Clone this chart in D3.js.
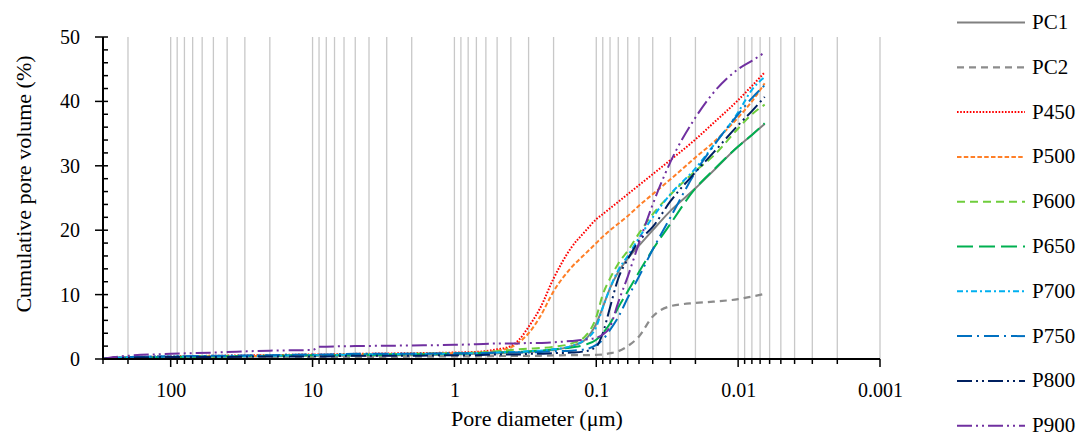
<!DOCTYPE html>
<html><head><meta charset="utf-8">
<script src="https://cdn.jsdelivr.net/npm/d3@7"></script>
<style>
body{margin:0;background:#fff;}
svg text{font-family:"Liberation Serif","Times New Roman",serif;fill:#000;}
</style>
</head><body>
<svg id="c" width="1080" height="439"></svg>
<script>
// ---- data (pore diameter in µm, cumulative pore volume in %) ----
const diameters = [300, 250, 200, 100, 50, 20, 10, 9, 5, 2, 1, 0.7, 0.5, 0.4, 0.35, 0.3, 0.25, 0.2, 0.15, 0.12, 0.1, 0.09, 0.08, 0.07, 0.06, 0.05, 0.04, 0.03, 0.02, 0.015, 0.01, 0.008, 0.0065];
const pc1  = [0, 0.15, 0.2, 0.3, 0.4, 0.4, 0.5, 0.5, 0.5, 0.6, 0.7, 0.8, 0.9, 1.0, 1.0, 1.1, 1.2, 1.4, 2.0, 3.0, 5.5, 8.0, 11.0, 13.5, 15.6, 17.6, 20.0, 23.0, 26.5, 29.2, 33.0, 34.8, 36.5];
const pc2  = [0, 0.1, 0.1, 0.15, 0.2, 0.25, 0.3, 0.3, 0.3, 0.35, 0.4, 0.4, 0.45, 0.5, 0.5, 0.5, 0.5, 0.55, 0.6, 0.6, 0.65, 0.7, 0.9, 1.2, 2.0, 3.5, 6.6, 8.2, 8.7, 8.9, 9.3, 9.7, 10.1];
const p450 = [0, 0.2, 0.3, 0.4, 0.5, 0.6, 0.7, 0.7, 0.8, 0.9, 1.0, 1.1, 1.5, 2.0, 3.0, 5.0, 7.8, 12.5, 17.3, 19.8, 21.7, 22.5, 23.4, 24.4, 25.6, 27.0, 28.7, 30.9, 34.1, 36.6, 40.2, 42.4, 44.5];
const p500 = [0, 0.15, 0.2, 0.3, 0.4, 0.5, 0.6, 0.6, 0.7, 0.8, 0.9, 1.0, 1.3, 1.8, 2.6, 4.0, 6.5, 10.5, 14.2, 16.3, 18.0, 19.0, 20.0, 21.0, 22.2, 23.8, 25.6, 27.9, 31.3, 33.6, 37.5, 40.0, 42.8];
const p600 = [0, 0.15, 0.2, 0.3, 0.4, 0.5, 0.6, 0.6, 0.7, 0.8, 0.9, 1.0, 1.2, 1.4, 1.5, 1.6, 1.7, 1.9, 2.4, 3.5, 6.5, 10.0, 12.5, 14.8, 16.8, 19.5, 22.5, 25.5, 29.2, 31.5, 35.8, 38.0, 39.5];
const p650 = [0, 0.15, 0.2, 0.3, 0.4, 0.5, 0.6, 0.6, 0.6, 0.7, 0.8, 0.9, 1.0, 1.1, 1.1, 1.2, 1.3, 1.5, 1.8, 2.2, 3.0, 4.0, 5.5, 8.0, 10.5, 13.5, 17.0, 21.0, 26.5, 29.3, 33.0, 34.8, 36.6];
const p700 = [0, 0.2, 0.3, 0.4, 0.4, 0.5, 0.6, 0.6, 0.7, 0.8, 0.8, 0.9, 1.0, 1.1, 1.1, 1.2, 1.3, 1.5, 2.0, 3.0, 5.0, 8.0, 11.0, 13.8, 16.0, 18.8, 22.0, 25.6, 29.6, 33.1, 38.3, 41.8, 43.8];
const p750 = [0, 0.2, 0.3, 0.4, 0.5, 0.6, 0.7, 0.7, 0.8, 0.8, 0.9, 0.9, 1.0, 1.0, 1.0, 1.0, 1.1, 1.2, 1.3, 1.5, 2.2, 3.0, 4.5, 6.5, 9.5, 12.8, 17.0, 22.0, 29.0, 33.0, 38.0, 40.5, 42.5];
const p800 = [0, 0.15, 0.2, 0.3, 0.3, 0.4, 0.4, 0.4, 0.5, 0.5, 0.6, 0.6, 0.7, 0.7, 0.7, 0.8, 0.8, 0.9, 1.0, 1.2, 1.9, 4.0, 8.0, 12.5, 15.5, 18.3, 20.5, 24.5, 29.0, 32.0, 36.3, 38.5, 40.7];
const p900 = [0, 0.3, 0.5, 0.8, 1.0, 1.3, 1.4, 1.9, 2.0, 2.1, 2.2, 2.3, 2.4, 2.4, 2.4, 2.5, 2.5, 2.6, 2.8, 3.0, 3.3, 3.8, 5.0, 8.8, 12.8, 18.0, 24.0, 30.6, 37.5, 41.3, 45.0, 46.3, 47.6];
const seriesNames = ["PC1", "PC2", "P450", "P500", "P600", "P650", "P700", "P750", "P800", "P900"];
const xTickValues = [100, 10, 1, 0.1, 0.01, 0.001];
const xTickLabels = ["100", "10", "1", "0.1", "0.01", "0.001"];
const yTickValues = [0, 10, 20, 30, 40, 50];
const yTickLabels = ["0", "10", "20", "30", "40", "50"];
const xTitle = "Pore diameter (μm)";
const yTitle = "Cumulative pore volume (%)";

// ---- styles ----
const seriesValues = [pc1, pc2, p450, p500, p600, p650, p700, p750, p800, p900];
const styles = [
  {color: "#808080", dash: null, w: 2},
  {color: "#8c8c8c", dash: "7,5", w: 2.2},
  {color: "#ff0000", dash: "1.6,1.6", w: 2},
  {color: "#ff7f27", dash: "4.5,2.3", w: 2},
  {color: "#6fcd3c", dash: "8,5", w: 2},
  {color: "#00b050", dash: "16,6", w: 2},
  {color: "#00b0f0", dash: "6,3,2,3", w: 2},
  {color: "#0070c0", dash: "15,5,2,5", w: 2},
  {color: "#002060", dash: "15,4,2,4,2,4", w: 2},
  {color: "#7030a0", dash: "15,4,2,4,2,4", w: 2}
];

const svg = d3.select("#c");
const mL = 103, mR = 880, mT = 37, mB = 359;
const x = d3.scaleLog().domain([300, 0.001]).range([mL, mR]);
const y = d3.scaleLinear().domain([0, 50]).range([mB, mT]);

// minor log positions
const minorVals = [];
for (let e = -3; e <= 2; e++) {
  for (let k = 1; k <= 9; k++) {
    const v = +(k * Math.pow(10, e)).toPrecision(6);
    if (v >= 0.001 && v <= 300) minorVals.push(v);
  }
}

// gridlines
svg.append("g").selectAll("line").data(minorVals.filter(v => v < 300)).join("line")
  .attr("x1", d => x(d)).attr("x2", d => x(d))
  .attr("y1", mT).attr("y2", mB)
  .attr("stroke", "#c8c8c8").attr("stroke-width", 1.3);

// series
const line = d3.line()
  .x(d => x(d[0])).y(d => y(d[1]))
  .curve(d3.curveMonotoneX);

const gS = svg.append("g");
seriesValues.forEach((vals, i) => {
  const pts = diameters.map((d, j) => [d, vals[j]]);
  gS.append("path").datum(pts)
    .attr("d", line)
    .attr("fill", "none")
    .attr("stroke", styles[i].color)
    .attr("stroke-width", styles[i].w)
    .attr("stroke-dasharray", styles[i].dash);
});

// x axis
const xAxis = d3.axisBottom(x).tickValues(xTickValues)
  .tickFormat((d, i) => xTickLabels[i]).tickSize(0).tickPadding(24);
const gx = svg.append("g").attr("transform", `translate(0,${mB})`).call(xAxis);
gx.select(".domain").remove();
gx.selectAll("text").attr("font-size", 20).attr("font-family", "Liberation Serif");
// x minor/major ticks
svg.append("g").selectAll("line").data(minorVals).join("line")
  .attr("x1", d => x(d)).attr("x2", d => x(d))
  .attr("y1", mB)
  .attr("y2", d => xTickValues.includes(d) ? mB + 8 : mB + 5)
  .attr("stroke", "#000").attr("stroke-width", 1.5);

// y axis
const yAxis = d3.axisLeft(y).tickValues(yTickValues)
  .tickFormat((d, i) => yTickLabels[i]).tickSize(0).tickPadding(23);
const gy = svg.append("g").attr("transform", `translate(${mL},0)`).call(yAxis);
gy.select(".domain").remove();
gy.selectAll("text").attr("font-size", 20).attr("font-family", "Liberation Serif");
const yMinor = d3.range(0, 51, 2);
svg.append("g").selectAll("line").data(yMinor).join("line")
  .attr("x1", d => d % 10 === 0 ? mL - 8 : mL)
  .attr("x2", mL + 5)
  .attr("y1", d => y(d)).attr("y2", d => y(d))
  .attr("stroke", "#000").attr("stroke-width", 1.5);

// axis lines
svg.append("line").attr("x1", mL).attr("x2", mL).attr("y1", mT).attr("y2", mB + 1)
  .attr("stroke", "#000").attr("stroke-width", 2);
svg.append("line").attr("x1", mL - 1).attr("x2", mR).attr("y1", mB).attr("y2", mB)
  .attr("stroke", "#000").attr("stroke-width", 2);

// titles
svg.append("text").attr("x", 537).attr("y", 426).attr("text-anchor", "middle")
  .attr("font-size", 22).text(xTitle);
svg.append("text").attr("transform", "translate(31,184) rotate(-90)").attr("text-anchor", "middle")
  .attr("font-size", 22).text(yTitle);

// legend
const lg = svg.append("g");
seriesNames.forEach((name, i) => {
  const cy = 22.5 + i * 44.8;
  lg.append("line").attr("x1", 957).attr("x2", 1025).attr("y1", cy).attr("y2", cy)
    .attr("stroke", styles[i].color).attr("stroke-width", styles[i].w)
    .attr("stroke-dasharray", styles[i].dash);
  lg.append("text").attr("x", 1032).attr("y", cy + 6.5).attr("font-size", 21).text(name);
});
</script>
</body></html>
